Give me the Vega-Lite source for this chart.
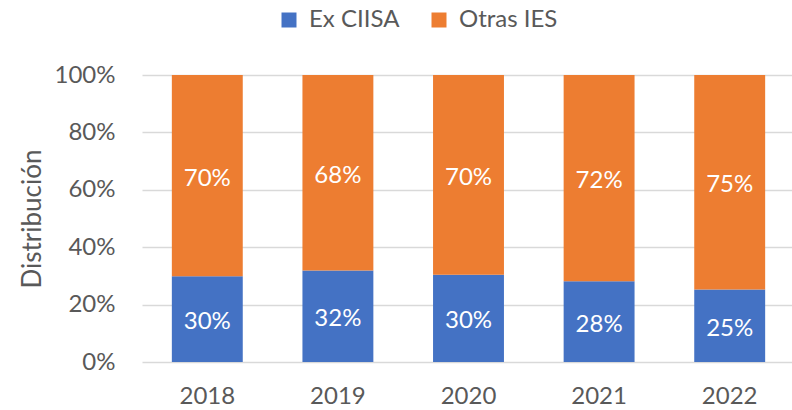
{
  "$schema": "https://vega.github.io/schema/vega-lite/v6.json",
  "autosize": {"type": "none"},
  "padding": {"left": 142, "top": 75, "right": 0, "bottom": 48},
  "width": 653,
  "height": 287,
  "background": "white",
  "config": {
    "font": "Lato",
    "view": {"stroke": null}
  },
  "data": {
    "values": [
      {"year": "2018", "serie": "Ex CIISA", "value": 0.299},
      {"year": "2018", "serie": "Otras IES", "value": 0.701},
      {"year": "2019", "serie": "Ex CIISA", "value": 0.319},
      {"year": "2019", "serie": "Otras IES", "value": 0.681},
      {"year": "2020", "serie": "Ex CIISA", "value": 0.304},
      {"year": "2020", "serie": "Otras IES", "value": 0.696},
      {"year": "2021", "serie": "Ex CIISA", "value": 0.281},
      {"year": "2021", "serie": "Otras IES", "value": 0.719},
      {"year": "2022", "serie": "Ex CIISA", "value": 0.253},
      {"year": "2022", "serie": "Otras IES", "value": 0.747}
    ]
  },
  "transform": [
    {"stack": "value", "groupby": ["year"], "sort": [{"field": "serie", "order": "ascending"}], "as": ["v0", "v1"]},
    {"calculate": "(datum.v0 + datum.v1) / 2", "as": "mid"}
  ],
  "encoding": {
    "x": {
      "field": "year", "type": "nominal", "title": null,
      "scale": {"paddingInner": 0.457, "paddingOuter": 0.2285},
      "axis": {"labelAngle": 0, "labelFontSize": 24, "labelColor": "#595959", "ticks": false, "domain": false, "labelPadding": 22}
    }
  },
  "layer": [
    {
      "mark": {"type": "bar"},
      "encoding": {
        "y": {
          "field": "v0", "type": "quantitative", "title": "Distribución",
          "scale": {"domain": [0, 1], "nice": false},
          "axis": {"format": ".0%", "values": [0, 0.2, 0.4, 0.6, 0.8, 1], "labelFontSize": 24, "labelColor": "#595959", "ticks": false, "domain": false, "labelPadding": 27, "gridColor": "#d9d9d9", "gridWidth": 1.3, "titleFontSize": 26, "titleColor": "#595959", "titleFontWeight": "normal", "titlePadding": 9}
        },
        "y2": {"field": "v1"},
        "color": {
          "field": "serie", "type": "nominal",
          "scale": {"domain": ["Ex CIISA", "Otras IES"], "range": ["#4472C4", "#ED7D31"]},
          "legend": {"title": null, "orient": "none", "direction": "horizontal", "legendX": 135, "legendY": -67, "symbolType": "square", "symbolSize": 225, "labelFontSize": 24, "labelColor": "#595959", "symbolStrokeWidth": 0, "columnPadding": 27, "labelOffset": 8}
        }
      }
    },
    {
      "mark": {"type": "text", "color": "white", "fontSize": 24, "baseline": "middle", "dy": 3},
      "encoding": {
        "y": {"field": "mid", "type": "quantitative"},
        "text": {"field": "value", "type": "quantitative", "format": ".0%"}
      }
    }
  ]
}
